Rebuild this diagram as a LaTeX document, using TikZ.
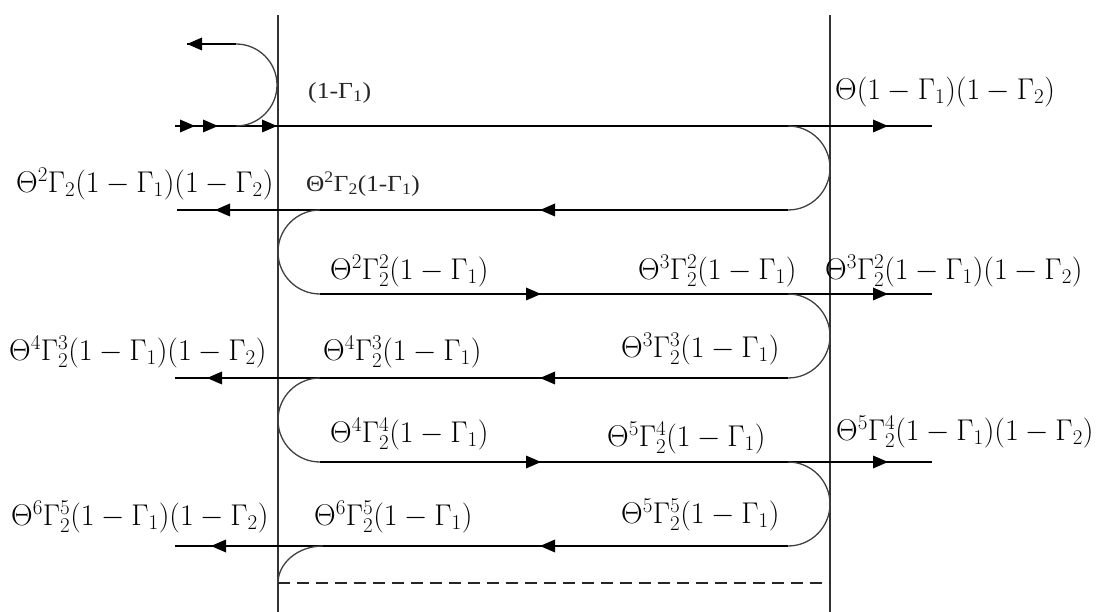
\RequirePackage{fix-cm}
\documentclass[tikz,border=0pt]{standalone}
\usepackage{fontspec}
\newfontfamily\tnr{Liberation Serif}
\newcommand\arrR[1]{\fill (#1) -- ++(-15,-6.5) -- ++(0,13) -- cycle;}
\newcommand\arrL[1]{\fill (#1) -- ++(15,-6.5) -- ++(0,13) -- cycle;}
\tikzset{
 ln/.style={line width=1.8pt, black},
 vl/.style={line width=1.8pt, black!80},
 cv/.style={line width=1.3pt, black!75},
 dl/.style={line width=1.5pt, black!85, dash pattern=on 12pt off 7pt},
 ml/.style={anchor=west, inner sep=0pt, font=\fontsize{30}{31}\selectfont},
 sl/.style={anchor=west, inner sep=0pt, text=black!85, font=\tnr\fontsize{23}{25}\selectfont},
}
\begin{document}
\begin{tikzpicture}[x=1pt,y=-1pt]
\useasboundingbox (0,0) rectangle (1112,612);
% vertical boundaries
\coordinate (Lt) at (278,15); \coordinate (Lb) at (278,612);
\coordinate (Rt) at (830,15); \coordinate (Rb) at (830,612);
\draw[vl] (Lt) -- (Lb);
\draw[vl] (Rt) -- (Rb);
% row coordinates
\coordinate (r1a) at (175,126); \coordinate (r1b) at (932,126);
\coordinate (r2a) at (177,210); \coordinate (r2b) at (788,210);
\coordinate (r3a) at (320,294); \coordinate (r3b) at (932,294);
\coordinate (r4a) at (175,378); \coordinate (r4b) at (788,378);
\coordinate (r5a) at (320,462); \coordinate (r5b) at (932,462);
\coordinate (r6a) at (175,546); \coordinate (r6b) at (788,546);
\draw[ln] (r1a) -- (r1b);
\draw[ln] (r2a) -- (r2b);
\draw[ln] (r3a) -- (r3b);
\draw[ln] (r4a) -- (r4b);
\draw[ln] (r5a) -- (r5b);
\draw[ln] (r6a) -- (r6b);
% top reflection loop
\coordinate (t0) at (236,126); \coordinate (t1) at (277,85); \coordinate (t2) at (236,44);
\coordinate (t3) at (187,44);
\draw[cv] (t0) .. controls (258.6,126) and (277,107.6) .. (t1)
          .. controls (277,62.4) and (258.6,44) .. (t2);
\draw[ln] (t2) -- (t3);
% right loops
\draw[cv] (788,126) .. controls (811.2,126) and (830,144.8) .. (830,168)
          .. controls (830,191.2) and (811.2,210) .. (r2b);
\draw[cv] (788,294) .. controls (811.2,294) and (830,312.8) .. (830,336)
          .. controls (830,359.2) and (811.2,378) .. (r4b);
\draw[cv] (788,462) .. controls (811.2,462) and (830,480.8) .. (830,504)
          .. controls (830,527.2) and (811.2,546) .. (r6b);
% left loops
\draw[cv] (320,210) .. controls (296.8,210) and (278,228.8) .. (278,252)
          .. controls (278,275.2) and (296.8,294) .. (r3a);
\draw[cv] (320,378) .. controls (296.8,378) and (278,396.8) .. (278,420)
          .. controls (278,443.2) and (296.8,462) .. (r5a);
\coordinate (b0) at (323,546); \coordinate (b1) at (278,583);
\draw[cv] (b0) .. controls (298,546) and (278,563) .. (b1);
\coordinate (d1) at (830,583);
\draw[dl] (b1) -- (d1);
% arrowheads
\arrR{195,126} \arrR{218,126} \arrR{277,126} \arrR{888,126}
\arrL{t3}
\arrL{215,210} \arrL{540,210}
\arrR{541,294} \arrR{888,294}
\arrL{207,378} \arrL{540,378}
\arrR{541,462} \arrR{888,462}
\arrL{211,546} \arrL{540,546}
% labels
\node[sl] (s1) at (308,93) {\scalebox{1.12}[1]{(1-Γ\textsubscript{1})}};
\node[ml] (m1) at (835,92) {$\Theta(1-\Gamma_1)(1-\Gamma_2)$};
\node[ml] (m2) at (16,184) {$\Theta^2\Gamma_2(1-\Gamma_1)(1-\Gamma_2)$};
\node[sl] (s2) at (306,184) {\scalebox{1.1}[1]{Θ\textsuperscript{2}Γ\textsubscript{2}(1-Γ\textsubscript{1})}};
\node[ml] (m3) at (330,271) {$\Theta^2\Gamma_2^2(1-\Gamma_1)$};
\node[ml] (m4) at (638,271) {$\Theta^3\Gamma_2^2(1-\Gamma_1)$};
\node[ml] (m5) at (825,271) {$\Theta^3\Gamma_2^2(1-\Gamma_1)(1-\Gamma_2)$};
\node[ml] (m6) at (9,352) {$\Theta^4\Gamma_2^3(1-\Gamma_1)(1-\Gamma_2)$};
\node[ml] (m7) at (323,352) {$\Theta^4\Gamma_2^3(1-\Gamma_1)$};
\node[ml] (m8) at (621,349) {$\Theta^3\Gamma_2^3(1-\Gamma_1)$};
\node[ml] (m9) at (330,434) {$\Theta^4\Gamma_2^4(1-\Gamma_1)$};
\node[ml] (m10) at (607,438) {$\Theta^5\Gamma_2^4(1-\Gamma_1)$};
\node[ml] (m11) at (836,432) {$\Theta^5\Gamma_2^4(1-\Gamma_1)(1-\Gamma_2)$};
\node[ml] (m12) at (11,517) {$\Theta^6\Gamma_2^5(1-\Gamma_1)(1-\Gamma_2)$};
\node[ml] (m13) at (314,517) {$\Theta^6\Gamma_2^5(1-\Gamma_1)$};
\node[ml] (m14) at (621,515) {$\Theta^5\Gamma_2^5(1-\Gamma_1)$};
\end{tikzpicture}
\end{document}
